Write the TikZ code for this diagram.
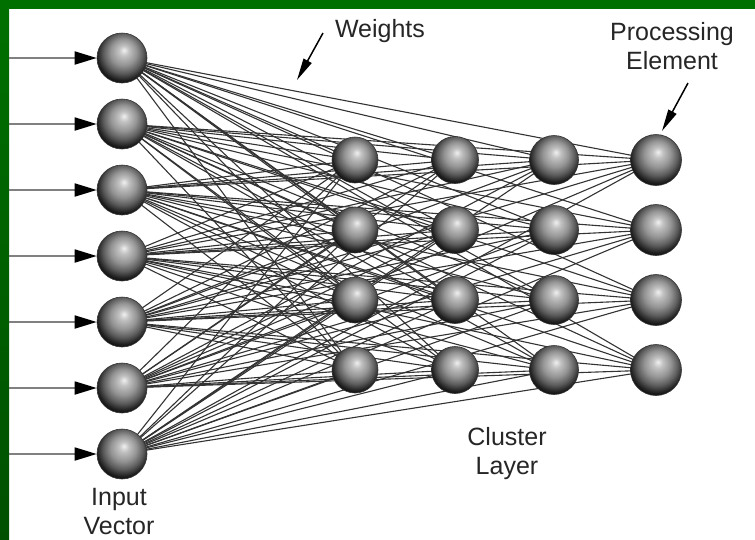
\documentclass[tikz,border=0pt]{standalone}
\usepackage{fontspec}
\setmainfont{Liberation Sans}
\usetikzlibrary{arrows.meta}
\definecolor{bordergreen}{RGB}{0,112,0}
\definecolor{bordergreendark}{RGB}{0,80,0}
\pgfdeclareradialshading{sphere}{\pgfqpoint{2bp}{8bp}}{color(0bp)=(black!6); color(5bp)=(black!24); color(13bp)=(black!42); color(20bp)=(black!64); color(26bp)=(black!88); color(31bp)=(black); color(50bp)=(black)}
\pgfdeclarelayer{back}
\pgfdeclarelayer{bg}
\pgfsetlayers{back,bg,main}
\tikzset{
  neuron/.style={circle, minimum size=50pt, inner sep=0pt, shading=sphere, draw=black!80, line width=0.6pt},
  wire/.style={black!80, line width=1.1pt},
  feed/.style={gray, line width=1.8pt, -{Triangle[length=22pt,width=13pt,black]}},
  txt/.style={font=\fontsize{25}{29}\selectfont, align=center, text=black!85},
  pointer/.style={black, line width=1.5pt, -{Triangle[length=22pt,width=9pt]}}
}
\begin{document}
\begin{tikzpicture}[x=1pt,y=-1pt]
\useasboundingbox (0,0) rectangle (755,539);
\begin{pgfonlayer}{back}
  \fill[white] (0,0) rectangle (755,539);
  \fill[bordergreen] (0,0) rectangle (755,9);
  \shade[top color=bordergreen, bottom color=bordergreendark] (0,0) rectangle (9,539);
\end{pgfonlayer}

% input vector
\foreach \k in {1,...,7}
  \node[neuron] (i\k) at (122,{58+66*(\k-1)}) {};
% cluster layer (4 x 4 grid)
\foreach \c/\x/\s in {1/355/46pt,2/455/47pt,3/554/49pt,4/656/51pt}
  \foreach \r in {1,...,4}
    \node[neuron, minimum size=\s] (c\c\r) at (\x,{160+70*(\r-1)}) {};

% connectors
\begin{pgfonlayer}{bg}
  \foreach \k in {1,...,7}
    \foreach \c in {1,...,4}
      \foreach \r in {1,...,4}
        \draw[wire] (i\k.center) -- (c\c\r.center);
  \foreach \k in {1,...,7} {
    \coordinate (s\k) at (9,{58+66*(\k-1)});
    \draw[feed] (s\k) -- (i\k.west);
  }
\end{pgfonlayer}

% labels
\node[txt] (wlabel) at (380,31) {Weights};
\coordinate (wtail) at (323,33);
\coordinate (whead) at (297,80);
\draw[pointer] (wtail) -- (whead);

\node[txt] (plabel) at (672,46) {Processing\\Element};
\coordinate (ptail) at (688,83);
\coordinate (phead) at (662,131);
\draw[pointer] (ptail) -- (phead);

\node[txt] (ilabel) at (119,512) {Input\\Vector};
\node[txt] (clabel) at (507,454) {Cluster\\Layer};
\end{tikzpicture}
\end{document}
